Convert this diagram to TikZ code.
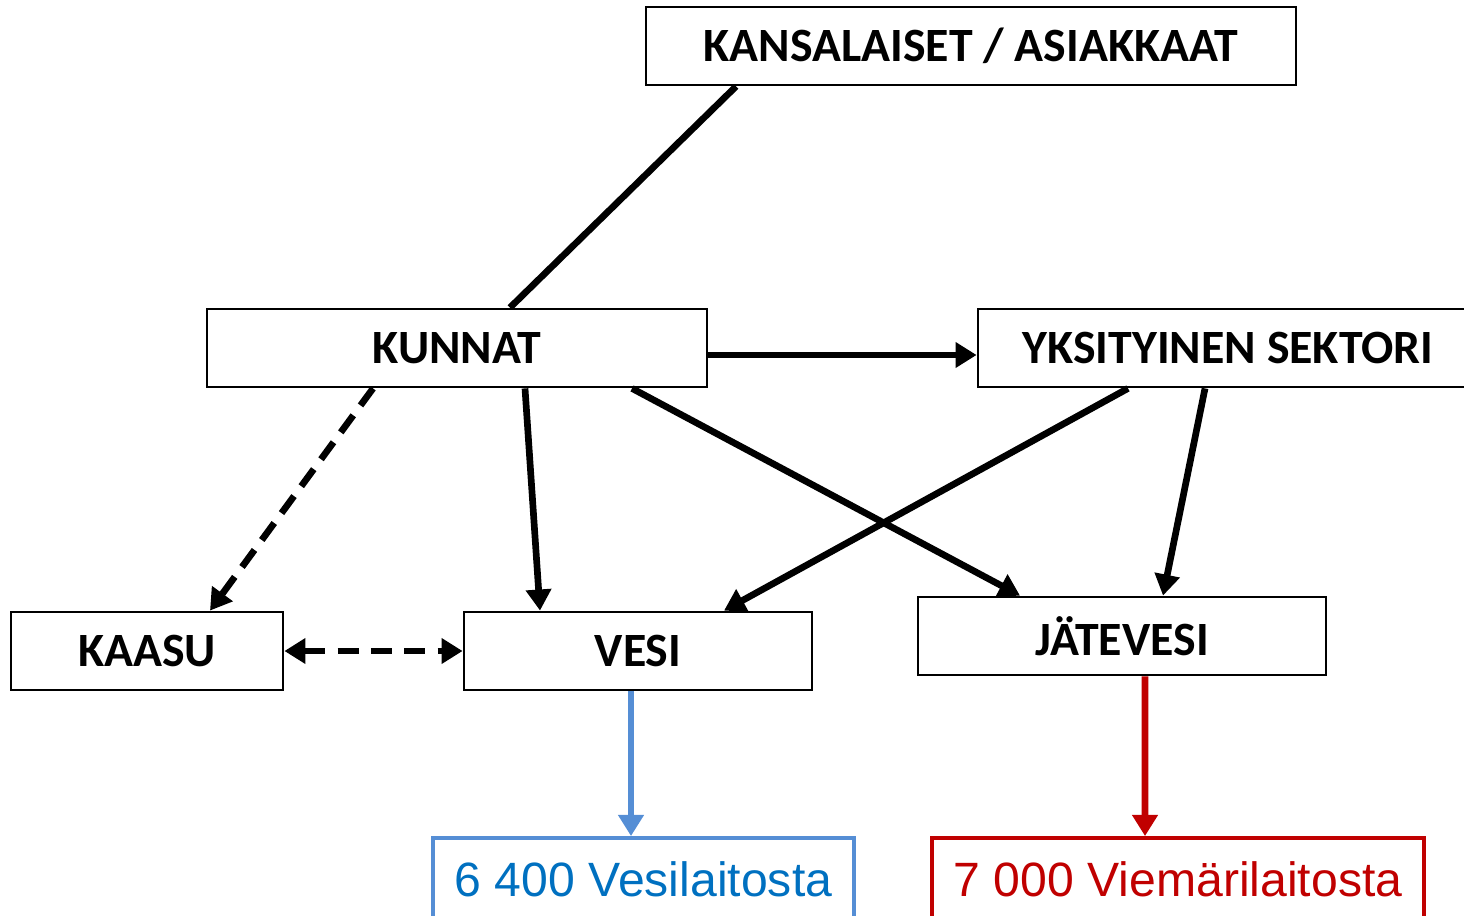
\documentclass[tikz,border=0pt]{standalone}
\usepackage{fontspec}
\setmainfont{Carlito}
\newfontfamily\arialfont{Liberation Sans}
\usetikzlibrary{arrows.meta}
\definecolor{vesiblue}{RGB}{85,142,213}
\definecolor{vesitext}{RGB}{0,112,192}
\definecolor{viemred}{RGB}{192,0,0}
\begin{document}
\begin{tikzpicture}[
    box/.style={draw,line width=0.8pt,minimum height=0.78cm,inner sep=0pt,font=\fontsize{13.6}{16}\selectfont\bfseries},
    countbox/.style={draw,line width=1.1pt,minimum height=0.82cm,inner sep=0pt,font=\arialfont\fontsize{13.7}{16}\selectfont},
    link/.style={line width=1.9pt,-{Triangle[length=6pt,width=7pt]}},
    dlink/.style={line width=1.9pt,dash pattern=on 6pt off 3.5pt,-{Triangle[length=6pt,width=7pt]}}]
    \useasboundingbox (0,0) rectangle (14.64,-9.15);
    \clip (0,0) rectangle (14.64,-9.15);
    \node[box,minimum width=6.5cm] (kansa) at (9.71,-0.46) {KANSALAISET / ASIAKKAAT};
    \node[box,minimum width=5.0cm] (kunnat) at (4.57,-3.48) {KUNNAT};
    \node[box,minimum width=5.0cm] (yks) at (12.28,-3.48) {YKSITYINEN SEKTORI};
    \node[box,minimum width=2.72cm] (kaasu) at (1.47,-6.51) {KAASU};
    \node[box,minimum width=3.48cm] (vesi) at (6.38,-6.51) {VESI};
    \node[box,minimum width=4.08cm] (jate) at (11.22,-6.36) {JÄTEVESI};
    \node[countbox,draw=vesiblue,text=vesitext,minimum width=4.21cm] (vlaitos) at (6.435,-8.79) {6 400 Vesilaitosta};
    \node[countbox,draw=viemred,text=viemred,minimum width=4.92cm] (klaitos) at (11.78,-8.79) {7 000 Viemärilaitosta};

    \draw[line width=1.9pt] ([xshift=-2.35cm]kansa.south)--([xshift=0.53cm]kunnat.north);
    \draw[link] ([yshift=-0.07cm]kunnat.east)--([yshift=-0.07cm]yks.west);
    \draw[dlink] ([xshift=-0.84cm]kunnat.south)--([xshift=0.63cm]kaasu.north);
    \draw[link] ([xshift=0.68cm]kunnat.south)--([xshift=-0.98cm]vesi.north);
    \draw[link] ([xshift=1.75cm]kunnat.south)--([xshift=-1.02cm]jate.north);
    \draw[link] ([xshift=-1.0cm]yks.south)--([xshift=0.86cm]vesi.north);
    \draw[link] ([xshift=-0.23cm]yks.south)--([xshift=0.41cm]jate.north);
    \draw[dlink,{Triangle[length=6pt,width=7pt]}-{Triangle[length=6pt,width=7pt]}] (kaasu.east)--(vesi.west);
    \draw[link,vesiblue] ([xshift=-0.07cm]vesi.south)--([xshift=-0.125cm]vlaitos.north);
    \draw[link,viemred] ([xshift=0.23cm]jate.south)--([xshift=-0.33cm]klaitos.north);
\end{tikzpicture}
\end{document}
